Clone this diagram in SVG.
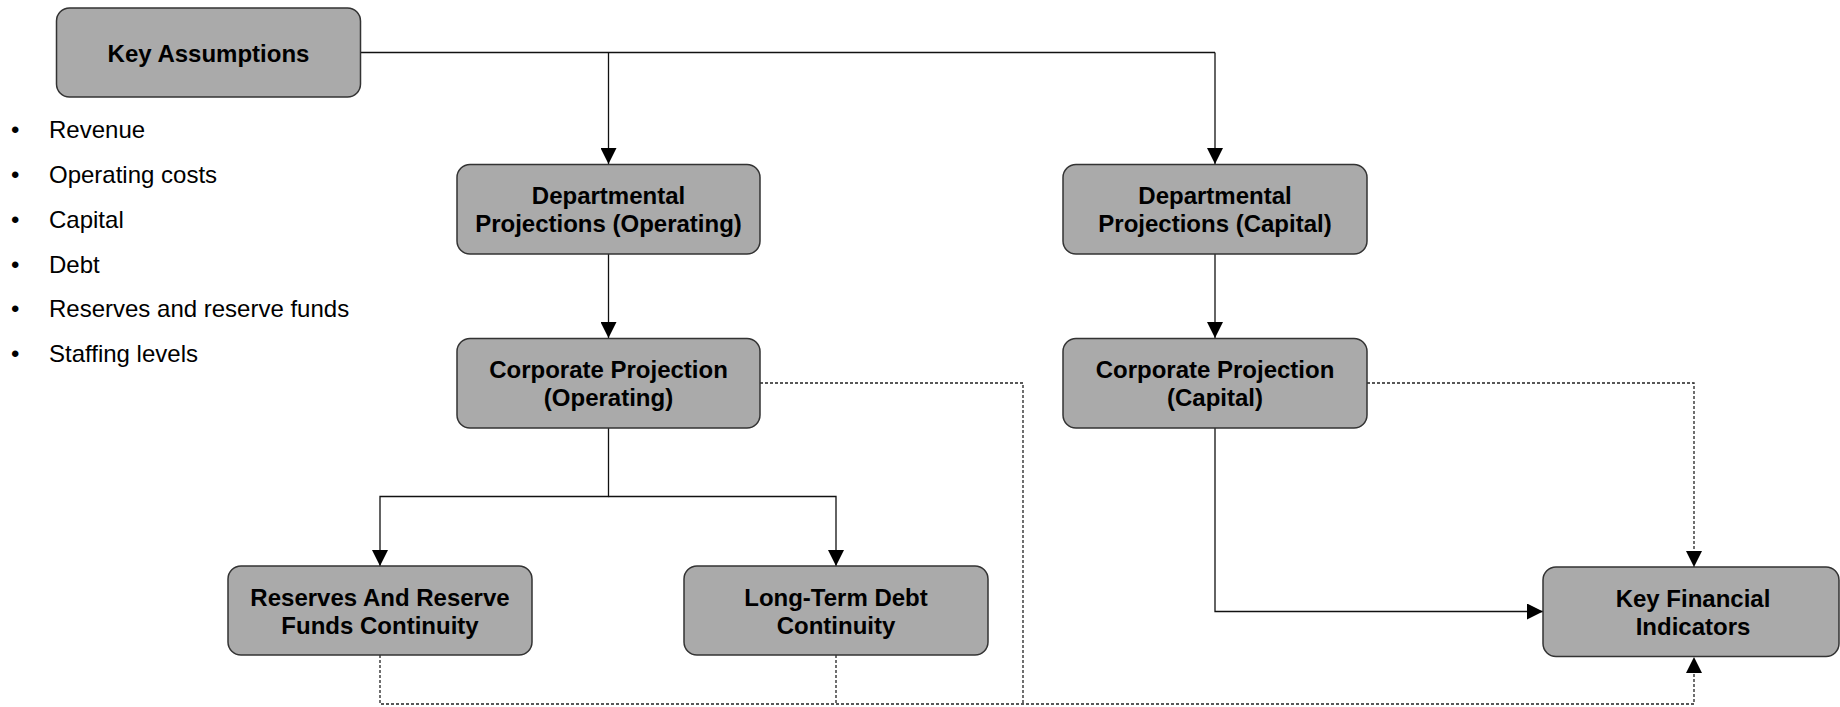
<svg xmlns="http://www.w3.org/2000/svg" width="1840" height="707" viewBox="0 0 1840 707">
  <style>
    .box { fill: #aaaaaa; stroke: #333333; stroke-width: 1.5; }
    .title { font-family: "Liberation Sans", Arial, sans-serif; font-size: 24px; font-weight: bold; fill: #000000; text-anchor: middle; }
    .item { font-family: "Liberation Sans", Arial, sans-serif; font-size: 24px; fill: #000000; }
    .solid { fill: none; stroke: #111111; stroke-width: 1.3; }
    .dotted { fill: none; stroke: #222222; stroke-width: 1.3; stroke-dasharray: 3 2; }
  </style>
  <defs>
    <marker id="arrow" viewBox="0 0 16 16" refX="16" refY="8" markerWidth="16" markerHeight="16" markerUnits="userSpaceOnUse" orient="auto">
      <path d="M0,0 L16,8 L0,16 Z" fill="#000000"/>
    </marker>
  </defs>
  <rect width="1840" height="707" fill="#ffffff"/>

  <!-- connectors -->
  <g id="connectors">
    <path class="solid" d="M361,52.5 H1215"/>
    <path class="solid" d="M608.5,52.5 V164" marker-end="url(#arrow)"/>
    <path class="solid" d="M1215,52.5 V164" marker-end="url(#arrow)"/>
    <path class="solid" d="M608.5,254 V338" marker-end="url(#arrow)"/>
    <path class="solid" d="M1215,254 V338" marker-end="url(#arrow)"/>
    <path class="solid" d="M608.5,428 V496.5 H380 V566" marker-end="url(#arrow)"/>
    <path class="solid" d="M608.5,496.5 H836 V566" marker-end="url(#arrow)"/>
    <path class="solid" d="M1215,428 V611.5 H1543" marker-end="url(#arrow)"/>
    <path class="dotted" d="M1367,383 H1694 V567" marker-end="url(#arrow)"/>
    <path class="dotted" d="M760,383 H1023 V704"/>
    <path class="dotted" d="M380,655 V704 H1694 V657" marker-end="url(#arrow)"/>
    <path class="dotted" d="M836,655 V704"/>
  </g>

  <!-- nodes -->
  <g id="key-assumptions">
    <rect class="box" x="56.5" y="8" width="304" height="89" rx="13"/>
    <text class="title" x="208.5" y="61.5">Key Assumptions</text>
  </g>

  <g id="assumption-list">
    <text class="item" x="11" y="138">•</text>
    <text class="item" x="49" y="138">Revenue</text>
    <text class="item" x="11" y="183">•</text>
    <text class="item" x="49" y="183">Operating costs</text>
    <text class="item" x="11" y="228">•</text>
    <text class="item" x="49" y="228">Capital</text>
    <text class="item" x="11" y="272.5">•</text>
    <text class="item" x="49" y="272.5">Debt</text>
    <text class="item" x="11" y="317">•</text>
    <text class="item" x="49" y="317">Reserves and reserve funds</text>
    <text class="item" x="11" y="362">•</text>
    <text class="item" x="49" y="362">Staffing levels</text>
  </g>

  <g id="dept-operating">
    <rect class="box" x="457" y="164.5" width="303" height="89.5" rx="13"/>
    <text class="title" x="608.5" y="204">Departmental</text>
    <text class="title" x="608.5" y="232">Projections (Operating)</text>
  </g>

  <g id="dept-capital">
    <rect class="box" x="1063" y="164.5" width="304" height="89.5" rx="13"/>
    <text class="title" x="1215" y="204">Departmental</text>
    <text class="title" x="1215" y="232">Projections (Capital)</text>
  </g>

  <g id="corp-operating">
    <rect class="box" x="457" y="338.5" width="303" height="89.5" rx="13"/>
    <text class="title" x="608.5" y="378">Corporate Projection</text>
    <text class="title" x="608.5" y="406">(Operating)</text>
  </g>

  <g id="corp-capital">
    <rect class="box" x="1063" y="338.5" width="304" height="89.5" rx="13"/>
    <text class="title" x="1215" y="378">Corporate Projection</text>
    <text class="title" x="1215" y="406">(Capital)</text>
  </g>

  <g id="reserves-continuity">
    <rect class="box" x="228" y="566" width="304" height="89" rx="13"/>
    <text class="title" x="380" y="605.5">Reserves And Reserve</text>
    <text class="title" x="380" y="633.5">Funds Continuity</text>
  </g>

  <g id="debt-continuity">
    <rect class="box" x="684" y="566" width="304" height="89" rx="13"/>
    <text class="title" x="836" y="605.5">Long-Term Debt</text>
    <text class="title" x="836" y="633.5">Continuity</text>
  </g>

  <g id="key-financial-indicators">
    <rect class="box" x="1543" y="567" width="296" height="89.5" rx="13"/>
    <text class="title" x="1693" y="606.5">Key Financial</text>
    <text class="title" x="1693" y="634.5">Indicators</text>
  </g>
</svg>
